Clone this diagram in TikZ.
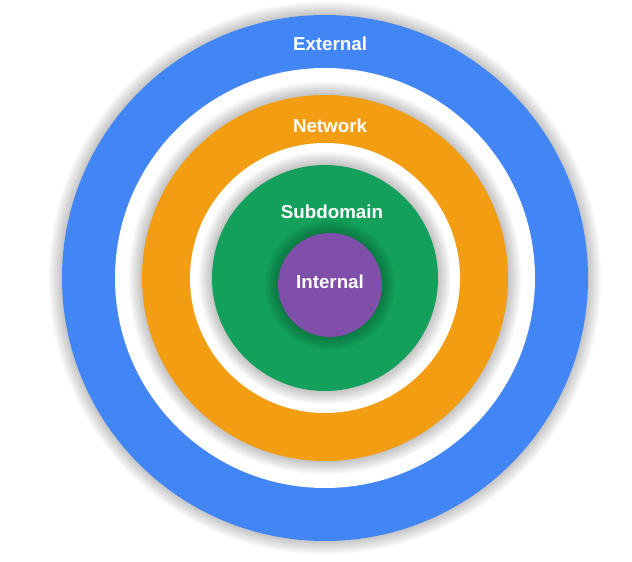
\documentclass[tikz,border=0pt]{standalone}
\usepackage{fontspec}
\setmainfont{Liberation Sans}
\definecolor{extblue}{HTML}{4286F5}
\definecolor{netorange}{HTML}{F29D12}
\definecolor{subgreen}{HTML}{12A05A}
\definecolor{intpurple}{HTML}{7F4FAA}
\tikzset{
  ringlabel/.style={text=white,font=\bfseries\fontsize{16}{18}\selectfont},
  ringshadow/.style={fill=black,fill opacity=0.035,draw=none}
}
\begin{document}
\begin{tikzpicture}[x=0.03cm,y=-0.03cm]
        \useasboundingbox (0,0) rectangle (632,562);
        \coordinate (C) at (325,278);
        \coordinate (CI) at (330,285);

        % outer ring
        \foreach \r in {264,266,...,276} \fill[ringshadow] (C) circle (\r);
        \fill[extblue] (C) circle (263);
        \fill[white] (C) circle (210);
        \foreach \r in {184,186,...,196} \fill[ringshadow] (C) circle (\r);
        \fill[netorange] (C) circle (183);
        \fill[white] (C) circle (135);
        \foreach \r in {114,116,...,126} \fill[ringshadow] (C) circle (\r);
        \fill[subgreen] (C) circle (113);
        \foreach \r in {53,55,...,65} \fill[ringshadow] (CI) circle (\r);
        \fill[intpurple] (CI) circle (52);

        \node[ringlabel] (ext) at (330,44) {External};
        \node[ringlabel] (net) at (330,126) {Network};
        \node[ringlabel] (sub) at (332,212) {Subdomain};
        \node[ringlabel] (int) at (330,282) {Internal};
\end{tikzpicture}
\end{document}
